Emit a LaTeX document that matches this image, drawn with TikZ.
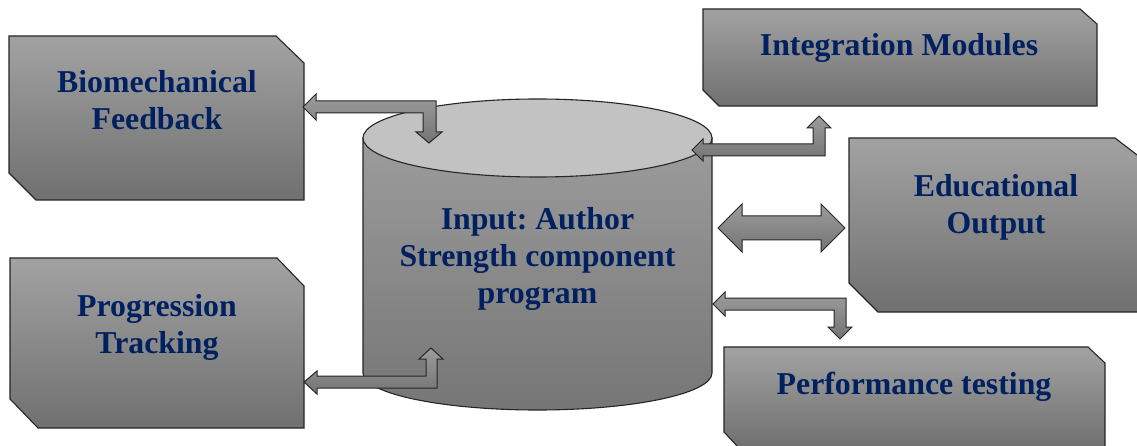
\documentclass[tikz,border=0pt]{standalone}
\usepackage{fontspec}
\setmainfont{Liberation Serif}
\frenchspacing
\definecolor{navytext}{HTML}{002060}
\definecolor{boxtop}{HTML}{A2A2A2}
\definecolor{boxbot}{HTML}{707070}
\definecolor{arrtop}{HTML}{9C9C9C}
\definecolor{arrbot}{HTML}{747474}
\definecolor{cyltop}{HTML}{C2C2C2}
\definecolor{cylbodytop}{HTML}{9C9C9C}
\definecolor{cylbodybot}{HTML}{767676}
\definecolor{edge}{HTML}{262626}
\tikzset{
  boxshape/.style={draw=edge, line width=1.1pt, top color=boxtop, bottom color=boxbot},
  blockarrow/.style={draw=edge, line width=1pt, line join=miter, top color=arrtop, bottom color=arrbot},
  lbl/.style={font=\bfseries\fontsize{31.8}{37}\selectfont, text=navytext, align=center, inner sep=0pt}
}
\begin{document}
\begin{tikzpicture}[x=1pt,y=1pt]
\clip (0,0) rectangle (1137,-446);
\fill[white] (0,0) rectangle (1137,-446);

% boxes
\path[boxshape] (9,-36) -- (276,-36) -- (304,-63) -- (304,-200) -- (36,-200) -- (9,-173) -- cycle;
\path[boxshape] (10,-258) -- (277,-258) -- (304,-286) -- (304,-428) -- (38,-428) -- (10,-399) -- cycle;
\path[boxshape] (703,-9) -- (1080,-9) -- (1097,-24) -- (1097,-106) -- (719,-106) -- (703,-90) -- cycle;
\path[boxshape] (849,-138) -- (1115,-138) -- (1145,-161) -- (1145,-312) -- (878,-312) -- (849,-283) -- cycle;
\path[boxshape] (724,-347) -- (1088,-347) -- (1105,-363) -- (1105,-448) -- (739,-448) -- (724,-432) -- cycle;

% cylinder
\path[draw=edge, line width=1.1pt, top color=cylbodytop, bottom color=cylbodybot]
  (363,-138) -- (363,-373) arc[start angle=180, end angle=360, x radius=174.5pt, y radius=37pt] -- (712,-138) -- cycle;
\draw[edge, line width=1.1pt, fill=cyltop] (537.5,-138) ellipse [x radius=174.5pt, y radius=39pt];

% labels
\node[lbl] (bio) at (157,-100) {Biomechanical\\Feedback};
\node[lbl] (prog) at (157,-327) {Progression\\Tracking};
\node[lbl] (integ) at (899,-48) {Integration Modules};
\node[lbl] (edu) at (996,-207) {Educational\\Output};
\node[lbl] (perf) at (914,-387) {Performance testing};
\node[lbl] (cyl) at (537.5,-259) {Input: Author\\Strength component\\program};

% block arrows
\path[blockarrow] (303,-107) -- (316,-94) -- (316,-101) -- (436,-101) -- (436,-132) -- (442,-132) -- (429,-143) -- (416,-132) -- (423,-132) -- (423,-113) -- (316,-113) -- (316,-120) -- cycle;
\path[blockarrow] (692,-150) -- (703,-139) -- (703,-144) -- (813,-144) -- (813,-128) -- (807,-128) -- (819,-116) -- (831,-128) -- (825,-128) -- (825,-156) -- (703,-156) -- (703,-161) -- cycle;
\path[blockarrow] (718,-228) -- (742,-204) -- (742,-216) -- (821,-216) -- (821,-204) -- (845,-228) -- (821,-252) -- (821,-240) -- (742,-240) -- (742,-252) -- cycle;
\path[blockarrow] (713,-304) -- (725,-292) -- (725,-298) -- (846,-298) -- (846,-327) -- (852,-327) -- (840,-339) -- (828,-327) -- (834,-327) -- (834,-310) -- (725,-310) -- (725,-316) -- cycle;
\path[blockarrow] (304,-382) -- (317,-371) -- (317,-376) -- (426,-376) -- (426,-359) -- (419,-359) -- (431,-348) -- (443,-359) -- (437,-359) -- (437,-388) -- (317,-388) -- (317,-394) -- cycle;
\end{tikzpicture}
\end{document}
